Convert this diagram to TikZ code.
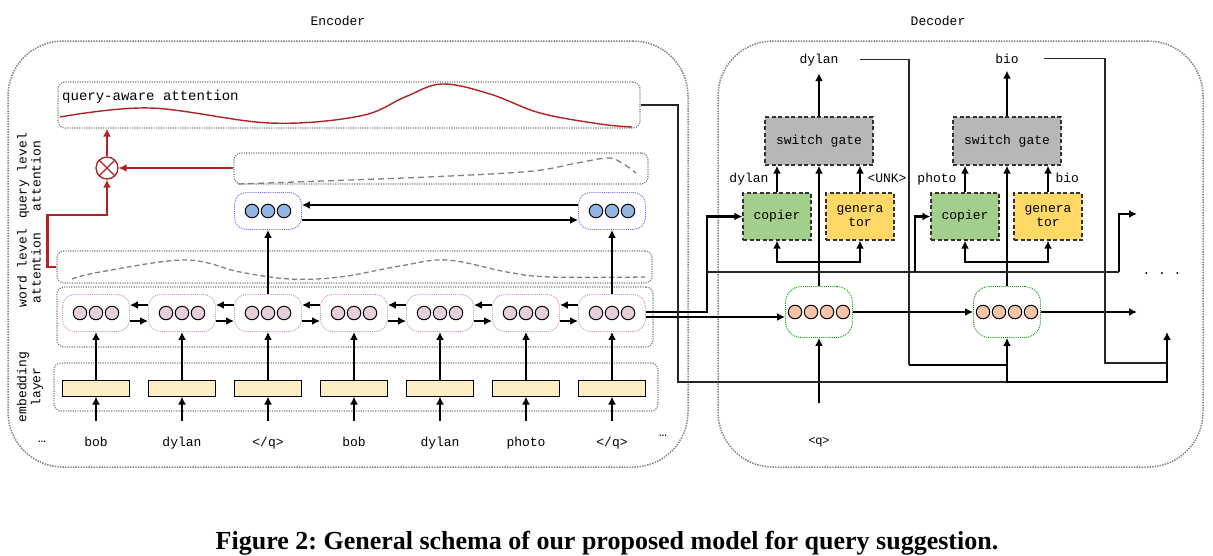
\documentclass[tikz,border=0pt]{standalone}
\usepackage{fontspec}
\setmainfont{Liberation Serif}
\setmonofont{Liberation Mono}
\newfontfamily\qfont{Liberation Sans}
\usetikzlibrary{positioning, arrows.meta, fit}
\frenchspacing

\definecolor{attred}{RGB}{178,34,34}
\definecolor{pinkfill}{RGB}{230,206,219}
\definecolor{bluefill}{RGB}{143,183,224}
\definecolor{peachfill}{RGB}{246,196,166}
\definecolor{embfill}{RGB}{253,238,196}
\definecolor{copyfill}{RGB}{163,206,139}
\definecolor{genfill}{RGB}{255,216,102}
\definecolor{gatefill}{RGB}{183,183,183}

\tikzset{
  every node/.style={font=\fontsize{13}{14}\selectfont\ttfamily},
  region/.style={draw=gray, line width=1.5pt, dash pattern=on 1.4pt off 1.2pt, rounded corners=55pt, inner sep=0pt},
  layer/.style={draw=gray, line width=1.2pt, dash pattern=on 1.2pt off 1.2pt, rounded corners=7pt, inner sep=0pt},
  rnn/.style={draw=#1, line width=0.9pt, dash pattern=on 0.9pt off 1pt, rounded corners=12pt, minimum width=67pt, minimum height=37pt},
  unit/.style={circle, draw, line width=1pt, minimum size=13.5pt, inner sep=0pt, fill=#1},
  embed/.style={draw, line width=1pt, fill=embfill, minimum width=67pt, minimum height=16pt, inner sep=0pt},
  module/.style={draw=black!80, line width=1.3pt, dash pattern=on 4pt off 2.5pt, fill=#1, minimum width=68pt, minimum height=47pt, align=center},
  flow/.style={line width=2.6pt, -{Latex[length=8pt,width=8pt]}},
  wire/.style={line width=1.1pt, black!85},
  attn/.style={attred, line width=2.6pt},
}

\begin{document}
\begin{tikzpicture}[x=1pt, y=-1pt]
    \useasboundingbox (0,0) rectangle (1213,555);

    \node (encoder) [region, fit={(8,41) (688,467)}] {};
    \node (decoder) [region, fit={(718,41) (1203,467)}] {};
    \node [anchor=base] at (338,25) {Encoder};
    \node [anchor=base] at (938,25) {Decoder};

    \node (qa) [layer, fit={(58,82) (640,128)}] {};
    \node [anchor=base west, inner sep=0pt, font=\fontsize{14}{16}\selectfont\ttfamily] at (62,100) {query-aware attention};
    \node (ql) [layer, fit={(234,153) (648,184)}] {};
    \node (wl) [layer, fit={(57,251) (652,283)}] {};
    \node (lstm) [layer, fit={(57,287) (653,347)}] {};
    \node (emb) [layer, fit={(54,363) (658,411)}] {};

    \node [rotate=90, align=center] at (29,176) {query level\\attention};
    \node [rotate=90, align=center] at (29,268) {word level\\attention};
    \node [rotate=90, align=center] at (30,387) {embedding\\layer};

    \draw [attred, line width=1.4pt] plot [smooth, tension=0.6] coordinates {(60,117) (150,108) (270,123) (360,116) (405,97) (442,84) (490,94) (540,113) (600,124) (632,127)};
    \draw [gray, line width=1.3pt, dash pattern=on 6pt off 4pt] plot [smooth, tension=0.6] coordinates {(238,184) (350,180) (450,176) (533,171) (577,163) (608,158) (622,163) (636,173)};
    \draw [gray, line width=1.3pt, dash pattern=on 5pt off 3pt] plot [smooth, tension=0.6] coordinates {(72,279) (100,272) (185,260) (240,272) (290,279) (340,277) (400,266) (447,260) (507,272) (550,277) (645,277)};

    \foreach \w/\x [count=\i] in {bob/96, dylan/182, {</q>}/268, bob/354, dylan/440, photo/526, {</q>}/612} {
        \node (e\i) [rnn=violet!45] at (\x,313) {};
        \foreach \d in {-16,0,16} \node [unit=pinkfill] at ([xshift=\d pt]e\i.center) {};
        \node (v\i) [embed] at (\x,388) {};
        \node (w\i) [anchor=base] at (\x,446) {\w};
        \draw [flow] ([yshift=12pt]w\i.north) -- (v\i);
        \draw [flow] (v\i) -- (e\i);
    }
    \foreach \i [evaluate=\i as \j using int(\i+1)] in {1,...,6} {
        \draw [flow] ([yshift=8pt]e\j.west) -- ([yshift=8pt]e\i.east);
        \draw [flow] ([yshift=-8pt]e\i.east) -- ([yshift=-8pt]e\j.west);
    }
    \node [font=\fontsize{13}{13}\selectfont\ttfamily] at (42,442) {…};
    \node [font=\fontsize{13}{13}\selectfont\ttfamily] at (663,436) {…};

    \node (b1) [rnn=blue!60] at (268,211) {};
    \node (b2) [rnn=blue!60] at (612,211) {};
    \foreach \d in {-16,0,16} {
        \node [unit=bluefill] at ([xshift=\d pt]b1.center) {};
        \node [unit=bluefill] at ([xshift=\d pt]b2.center) {};
    }
    \draw [flow] (e3) -- (b1);
    \draw [flow] (e7) -- (b2);
    \draw [flow] ([yshift=6pt]b2.west) -- ([yshift=6pt]b1.east);
    \draw [flow] ([yshift=-9pt]b1.east) -- ([yshift=-9pt]b2.west);

    \node (mul) [circle, draw=attred, line width=1.3pt, minimum size=22pt, inner sep=0pt] at (107,168) {};
    \draw [attred, line width=1.3pt] (mul.north west) -- (mul.south east) (mul.north east) -- (mul.south west);
    \draw [attn, -{Latex[length=8pt,width=8pt]}] (ql.west |- mul) -- (mul);
    \draw [attn, -{Latex[length=8pt,width=8pt]}] (mul) -- (mul |- qa.south);
    \draw [attn, -{Latex[length=8pt,width=8pt]}] (wl.west) -- ++(-9,0) |- (107,215) -- (mul);

    \foreach \x/\k/\cw/\gw/\out in {819/1/dylan/{<UNK>}/dylan, 1007/2/photo/bio/bio} {
        \node (g\k) [module=gatefill, minimum width=108pt, minimum height=48pt] at (\x,141) {switch gate};
        \node (c\k) [module=copyfill] at (\x-42,216.5) {copier};
        \node (r\k) [module=genfill] at (\x+41,216.5) {genera\\tor};
        \node (d\k) [rnn=green!60!black, minimum height=51pt, rounded corners=16pt] at (\x,312) {};
        \foreach \d in {-24,-8,8,24} \node [unit=peachfill] at ([xshift=\d pt]d\k.center) {};
        \node (o\k) [anchor=base] at (\x,63) {\out};
        \node [anchor=base east] at (\x-47,182) {\cw};
        \node [anchor=base west] at (\x+45,182) {\gw};
        \draw [flow, shorten >=4pt] (g\k) -- (o\k);
        \draw [flow] (c\k) -- (c\k |- g\k.south);
        \draw [flow] (r\k) -- (r\k |- g\k.south);
        \draw [flow] (d\k) -- (g\k);
        \draw [flow] (\x,262) -| (c\k);
        \draw [flow] (\x,262) -| (r\k);
    }

    \node (q) [anchor=base, font=\fontsize{12}{14}\selectfont\qfont] at (819,444) {<q>};
    \draw [flow] ([yshift=30pt]q.north) -- (d1);
    \node (more) at (1162,274) {. . .};

    \coordinate (nextc) at (1137,214);
    \coordinate (nexth) at (1137,312);
    \coordinate (nextd) at (1167,332);

    \draw [flow] ([yshift=1pt]e7.east) -- (707,312) |- (c1);
    \draw [flow] ([yshift=-4pt]e7.east) -- ([yshift=-4pt]e7.east -| d1.west);
    \draw [wire] (707,272) -- (1119,272);
    \draw [flow] (915,272) |- (c2);
    \draw [flow] (1119,272) |- (nextc);
    \draw [flow] (d1) -- (d2);
    \draw [flow] (d2) -- (nexth);

    \draw [wire] (qa.east) -| (678,382) -- (1007,382);
    \draw [line width=2.6pt] (1007,382) -- (1007,365);
    \draw [flow] (1007,382) -| (nextd);
    \draw [wire] ([xshift=18pt]o1.east) -| (909,365);
    \draw [flow] (909,365) -| (d2);
    \draw [wire] ([xshift=22pt]o2.east) -| (1105,363) -- (1167,363);

    \node (caption) [anchor=base, font=\fontsize{26}{30}\selectfont\rmfamily\bfseries] at (607,549) {Figure 2: General schema of our proposed model for query suggestion.};
\end{tikzpicture}
\end{document}
